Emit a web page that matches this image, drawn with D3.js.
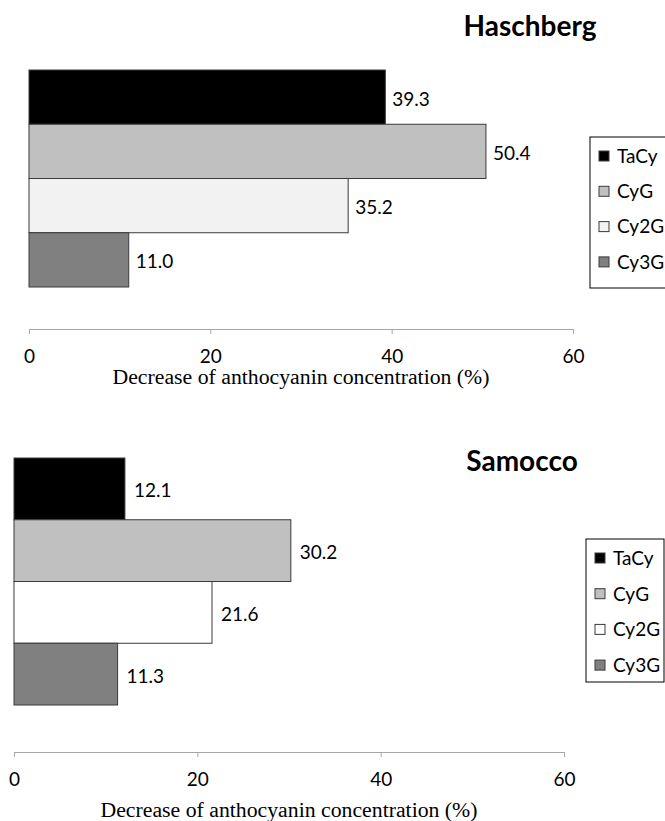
<!DOCTYPE html>
<html>
<head>
<meta charset="utf-8">
<script src="https://cdn.jsdelivr.net/npm/d3@7"></script>
<style>
  body { margin: 0; background: #fff; }
  svg { display: block; }
</style>
</head>
<body>
<div id="chart"></div>
<script>
// data
var categories = ["TaCy", "CyG", "Cy2G", "Cy3G"];
var haschbergValues = [39.3, 50.4, 35.2, 11.0];
var samoccoValues = [12.1, 30.2, 21.6, 11.3];
var tickValues = [0, 20, 40, 60];
var axisTitle = "Decrease of anthocyanin concentration (%)";

var width = 665, height = 821;

var svg = d3.select("#chart")
  .append("svg")
  .attr("width", width)
  .attr("height", height);

// one layout object per panel
var panels = [
  {
    title: "Haschberg", values: haschbergValues,
    fills: ["#000000", "#c0c0c0", "#f2f2f2", "#808080"],
    x0: 29, x1: 573, top: 70, bottom: 287, axisY: 329,
    titleX: 530, titleY: 36, axisTitleY: 384, labelGap: 7,
    legend: { x: 590, y: 137, w: 80, h: 151, rowY: 156, rowStep: 35.3 }
  },
  {
    title: "Samocco", values: samoccoValues,
    fills: ["#000000", "#c0c0c0", "#ffffff", "#808080"],
    x0: 14, x1: 564, top: 458, bottom: 705, axisY: 752,
    titleX: 522, titleY: 471, axisTitleY: 817, labelGap: 9,
    legend: { x: 586, y: 539, w: 78, h: 143, rowY: 558, rowStep: 35.7 }
  }
];

panels.forEach(function (p) {
  var g = svg.append("g");

  var x = d3.scaleLinear()
    .domain([0, 60])
    .range([p.x0, p.x1]);

  var y = d3.scaleBand()
    .domain(categories)
    .range([p.top, p.bottom])
    .padding(0);

  var color = d3.scaleOrdinal()
    .domain(categories)
    .range(p.fills);

  // bars
  g.selectAll("rect.bar")
    .data(p.values)
    .enter()
    .append("rect")
    .attr("class", "bar")
    .attr("x", x(0))
    .attr("y", function (d, i) { return y(categories[i]); })
    .attr("width", function (d) { return x(d) - x(0); })
    .attr("height", y.bandwidth())
    .style("fill", function (d, i) { return color(categories[i]); })
    .style("stroke", "#3a3a3a")
    .style("stroke-width", 1);

  // value labels
  g.selectAll("text.val")
    .data(p.values)
    .enter()
    .append("text")
    .attr("class", "val")
    .attr("x", function (d) { return x(d) + p.labelGap; })
    .attr("y", function (d, i) { return y(categories[i]) + y.bandwidth() / 2; })
    .attr("dy", "0.45em")
    .style("font", "19px Lato")
    .style("fill", "#000")
    .text(function (d) { return d.toFixed(1); });

  // x axis
  var axis = g.append("g")
    .attr("transform", "translate(0," + p.axisY + ")")
    .call(d3.axisBottom(x)
      .tickValues(tickValues)
      .tickSize(5)
      .tickPadding(16)
      .tickFormat(d3.format("d")));

  axis.select(".domain").attr("stroke", "#a6a6a6");
  axis.selectAll(".tick line").attr("stroke", "#a6a6a6");
  axis.selectAll(".tick text")
    .style("font", "19px Lato")
    .style("fill", "#000");

  // axis title
  g.append("text")
    .attr("x", (p.x0 + p.x1) / 2)
    .attr("y", p.axisTitleY)
    .attr("text-anchor", "middle")
    .attr("textLength", 377)
    .attr("lengthAdjust", "spacingAndGlyphs")
    .style("font", "20px 'Liberation Serif'")
    .text(axisTitle);

  // panel title
  g.append("text")
    .attr("x", p.titleX)
    .attr("y", p.titleY)
    .attr("text-anchor", "middle")
    .style("font", "bold 28px Lato")
    .text(p.title);

  // legend
  var lg = g.append("g");
  lg.append("rect")
    .attr("x", p.legend.x)
    .attr("y", p.legend.y)
    .attr("width", p.legend.w)
    .attr("height", p.legend.h)
    .style("fill", "#fff")
    .style("stroke", "#000")
    .style("stroke-width", 1);

  var rows = lg.selectAll("g.row")
    .data(categories)
    .enter()
    .append("g")
    .attr("class", "row")
    .attr("transform", function (d, i) {
      return "translate(" + (p.legend.x + 9) + "," + (p.legend.rowY + i * p.legend.rowStep) + ")";
    });

  rows.append("rect")
    .attr("x", 0)
    .attr("y", -5)
    .attr("width", 10)
    .attr("height", 10)
    .style("fill", function (d) { return color(d); })
    .style("stroke", "#3a3a3a")
    .style("stroke-width", 1);

  rows.append("text")
    .attr("x", 18)
    .attr("dy", "0.36em")
    .style("font", "19px Lato")
    .text(function (d) { return d; });
});
</script>
</body>
</html>
